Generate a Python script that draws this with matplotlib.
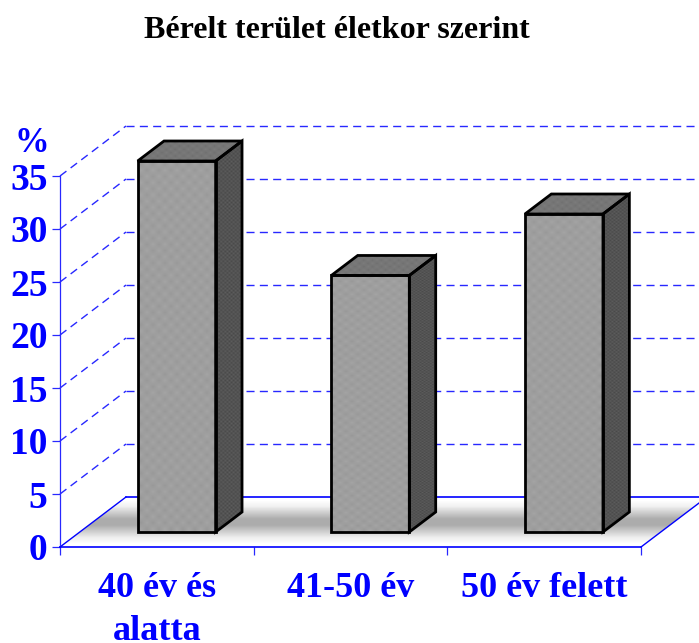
import numpy as np
import matplotlib
matplotlib.use("Agg")
import matplotlib.pyplot as plt
from matplotlib.patches import Polygon

# ── Data ──────────────────────────────────────────────────────────────────────
CATEGORIES = ["40 év és\nalatta", "41-50 év", "50 év felett"]
VALUES     = [35.0, 24.2, 30.0]
Y_TICKS    = [0, 5, 10, 15, 20, 25, 30, 35]
GRID_VALS  = [5, 10, 15, 20, 25, 30, 35]
TITLE      = "Bérelt terület életkor szerint"

# ── Style ─────────────────────────────────────────────────────────────────────
BLUE      = "#0000ff"
GRID_CLR  = "#2828ff"
W, H      = 699, 643
DEPTH_X   = 66 / 193.67   # 3D wall offset, category units
DEPTH_Y   = 50 / 10.6     # 3D wall offset, value units
BAR_W     = 78 / 193.67
BAR_D0, BAR_D1 = 0.3, 0.7 # bar front/back as share of floor depth

plt.rcParams["font.family"] = ["Liberation Serif", "DejaVu Serif"]


def proj(x, v, d=0.0):
    """Category/value/depth to the oblique 2D position."""
    return x + d * DEPTH_X, v + d * DEPTH_Y


def textured(ax, poly, img, extent, zorder, vmin=0, vmax=255):
    im = ax.imshow(img, extent=extent, cmap="gray", vmin=vmin, vmax=vmax,
                   aspect="auto", interpolation="bilinear", zorder=zorder)
    patch = Polygon(poly, closed=True, transform=ax.transData, fc="none", ec="none")
    ax.add_patch(patch)
    im.set_clip_path(patch)
    im.set_clip_box(ax.figure.bbox)   # images stick out of the axes box


def weave(h, w, base, amp, period):
    yy, xx = np.mgrid[0:h, 0:w]
    return base + amp * ((xx % period < period / 2) ^ (yy % period < period / 2))


fig = plt.figure(figsize=(W / 100, H / 100), dpi=100, facecolor="white")
ax = fig.add_axes([60 / W, (H - 547) / H, 581 / W, 371 / H])
ax.set_xlim(0, 3)
ax.set_ylim(0, 35)

# ── Floor ─────────────────────────────────────────────────────────────────────
floor = [proj(0, 0), proj(3, 0), proj(3, 0, 1), proj(0, 0, 1)]
grad = np.array([[255], [240], [205], [172], [172], [205], [238], [255]], dtype=float)
textured(ax, floor, grad, (0, 3 + DEPTH_X, 0, DEPTH_Y), 1)
ax.plot(*zip(proj(0, 0, 1), proj(3.2, 0, 1)), color=BLUE, lw=1.2, zorder=2, clip_on=False)
ax.plot(*zip(proj(0, 0), proj(0, 0, 1)), color=BLUE, lw=1.0, zorder=2, clip_on=False)
ax.plot(*zip(proj(3, 0), proj(3, 0, 1)), color=BLUE, lw=1.0, zorder=2, clip_on=False)

# ── Walls ─────────────────────────────────────────────────────────────────────
for v in GRID_VALS:
    ax.plot(*zip(proj(0, v), proj(0, v, 1)), color=GRID_CLR, lw=1.0,
            ls=(0, (5.8, 3.8)), zorder=2, clip_on=False)
    ax.plot(*zip(proj(0, v, 1), proj(3.2, v, 1)), color=GRID_CLR, lw=1.0,
            ls=(0, (5.8, 3.8)), zorder=2, clip_on=False)

# ── Bars ──────────────────────────────────────────────────────────────────────
for i, val in enumerate(VALUES):
    x0 = i + 0.5 - BAR_W / 2
    x1 = x0 + BAR_W

    front = [proj(x0, 0, BAR_D0), proj(x1, 0, BAR_D0), proj(x1, val, BAR_D0), proj(x0, val, BAR_D0)]
    side  = [proj(x1, 0, BAR_D0), proj(x1, 0, BAR_D1), proj(x1, val, BAR_D1), proj(x1, val, BAR_D0)]
    top   = [proj(x0, val, BAR_D0), proj(x1, val, BAR_D0), proj(x1, val, BAR_D1), proj(x0, val, BAR_D1)]

    textured(ax, front, weave(60, 13, 152, 12, 2), (front[0][0], front[1][0], front[0][1], front[2][1]), 3)
    textured(ax, side, weave(200, 13, 72, 22, 2), (side[0][0], side[1][0], side[0][1], side[2][1]), 3)
    textured(ax, top, weave(6, 24, 112, 12, 2), (top[0][0], top[2][0], top[0][1], top[2][1]), 3)

    for poly in (front, side, top):
        ax.add_patch(Polygon(poly, closed=True, fc="none", ec="black", lw=2.0,
                             joinstyle="miter", zorder=4, clip_on=False))

ax.set_xlim(0, 3)
ax.set_ylim(0, 35)

# ── Axes ──────────────────────────────────────────────────────────────────────
for side_name in ("top", "right"):
    ax.spines[side_name].set_visible(False)
ax.spines["left"].set_color(GRID_CLR)
ax.spines["left"].set_linewidth(0.9)
ax.spines["bottom"].set_color(BLUE)
ax.spines["bottom"].set_linewidth(1.2)
ax.patch.set_alpha(0)

ax.set_yticks(Y_TICKS)
ax.set_yticklabels(Y_TICKS, fontsize=27, fontweight="bold", color=BLUE)
ax.tick_params(axis="y", length=6, width=0.9, color=GRID_CLR, pad=3)

ax.set_xticks([0, 1, 2, 3])
ax.set_xticklabels([])
ax.tick_params(axis="x", which="major", length=6, width=0.9, color=GRID_CLR)
ax.set_xticks([0.5, 1.5, 2.5], minor=True)
ax.set_xticklabels(CATEGORIES, minor=True, fontsize=26, fontweight="bold", color=BLUE,
                   linespacing=1.4)
ax.tick_params(axis="x", which="minor", length=0, pad=18)

fig.text(32 / W, 1 - 144 / H, "%", fontsize=25, fontweight="bold", color=BLUE,
         ha="center", va="center")
fig.text(337 / W, 1 - 30 / H, TITLE, fontsize=23, fontweight="bold", color="black",
         ha="center", va="center")

fig.savefig("out.png", dpi=100, facecolor="white")
plt.close(fig)
